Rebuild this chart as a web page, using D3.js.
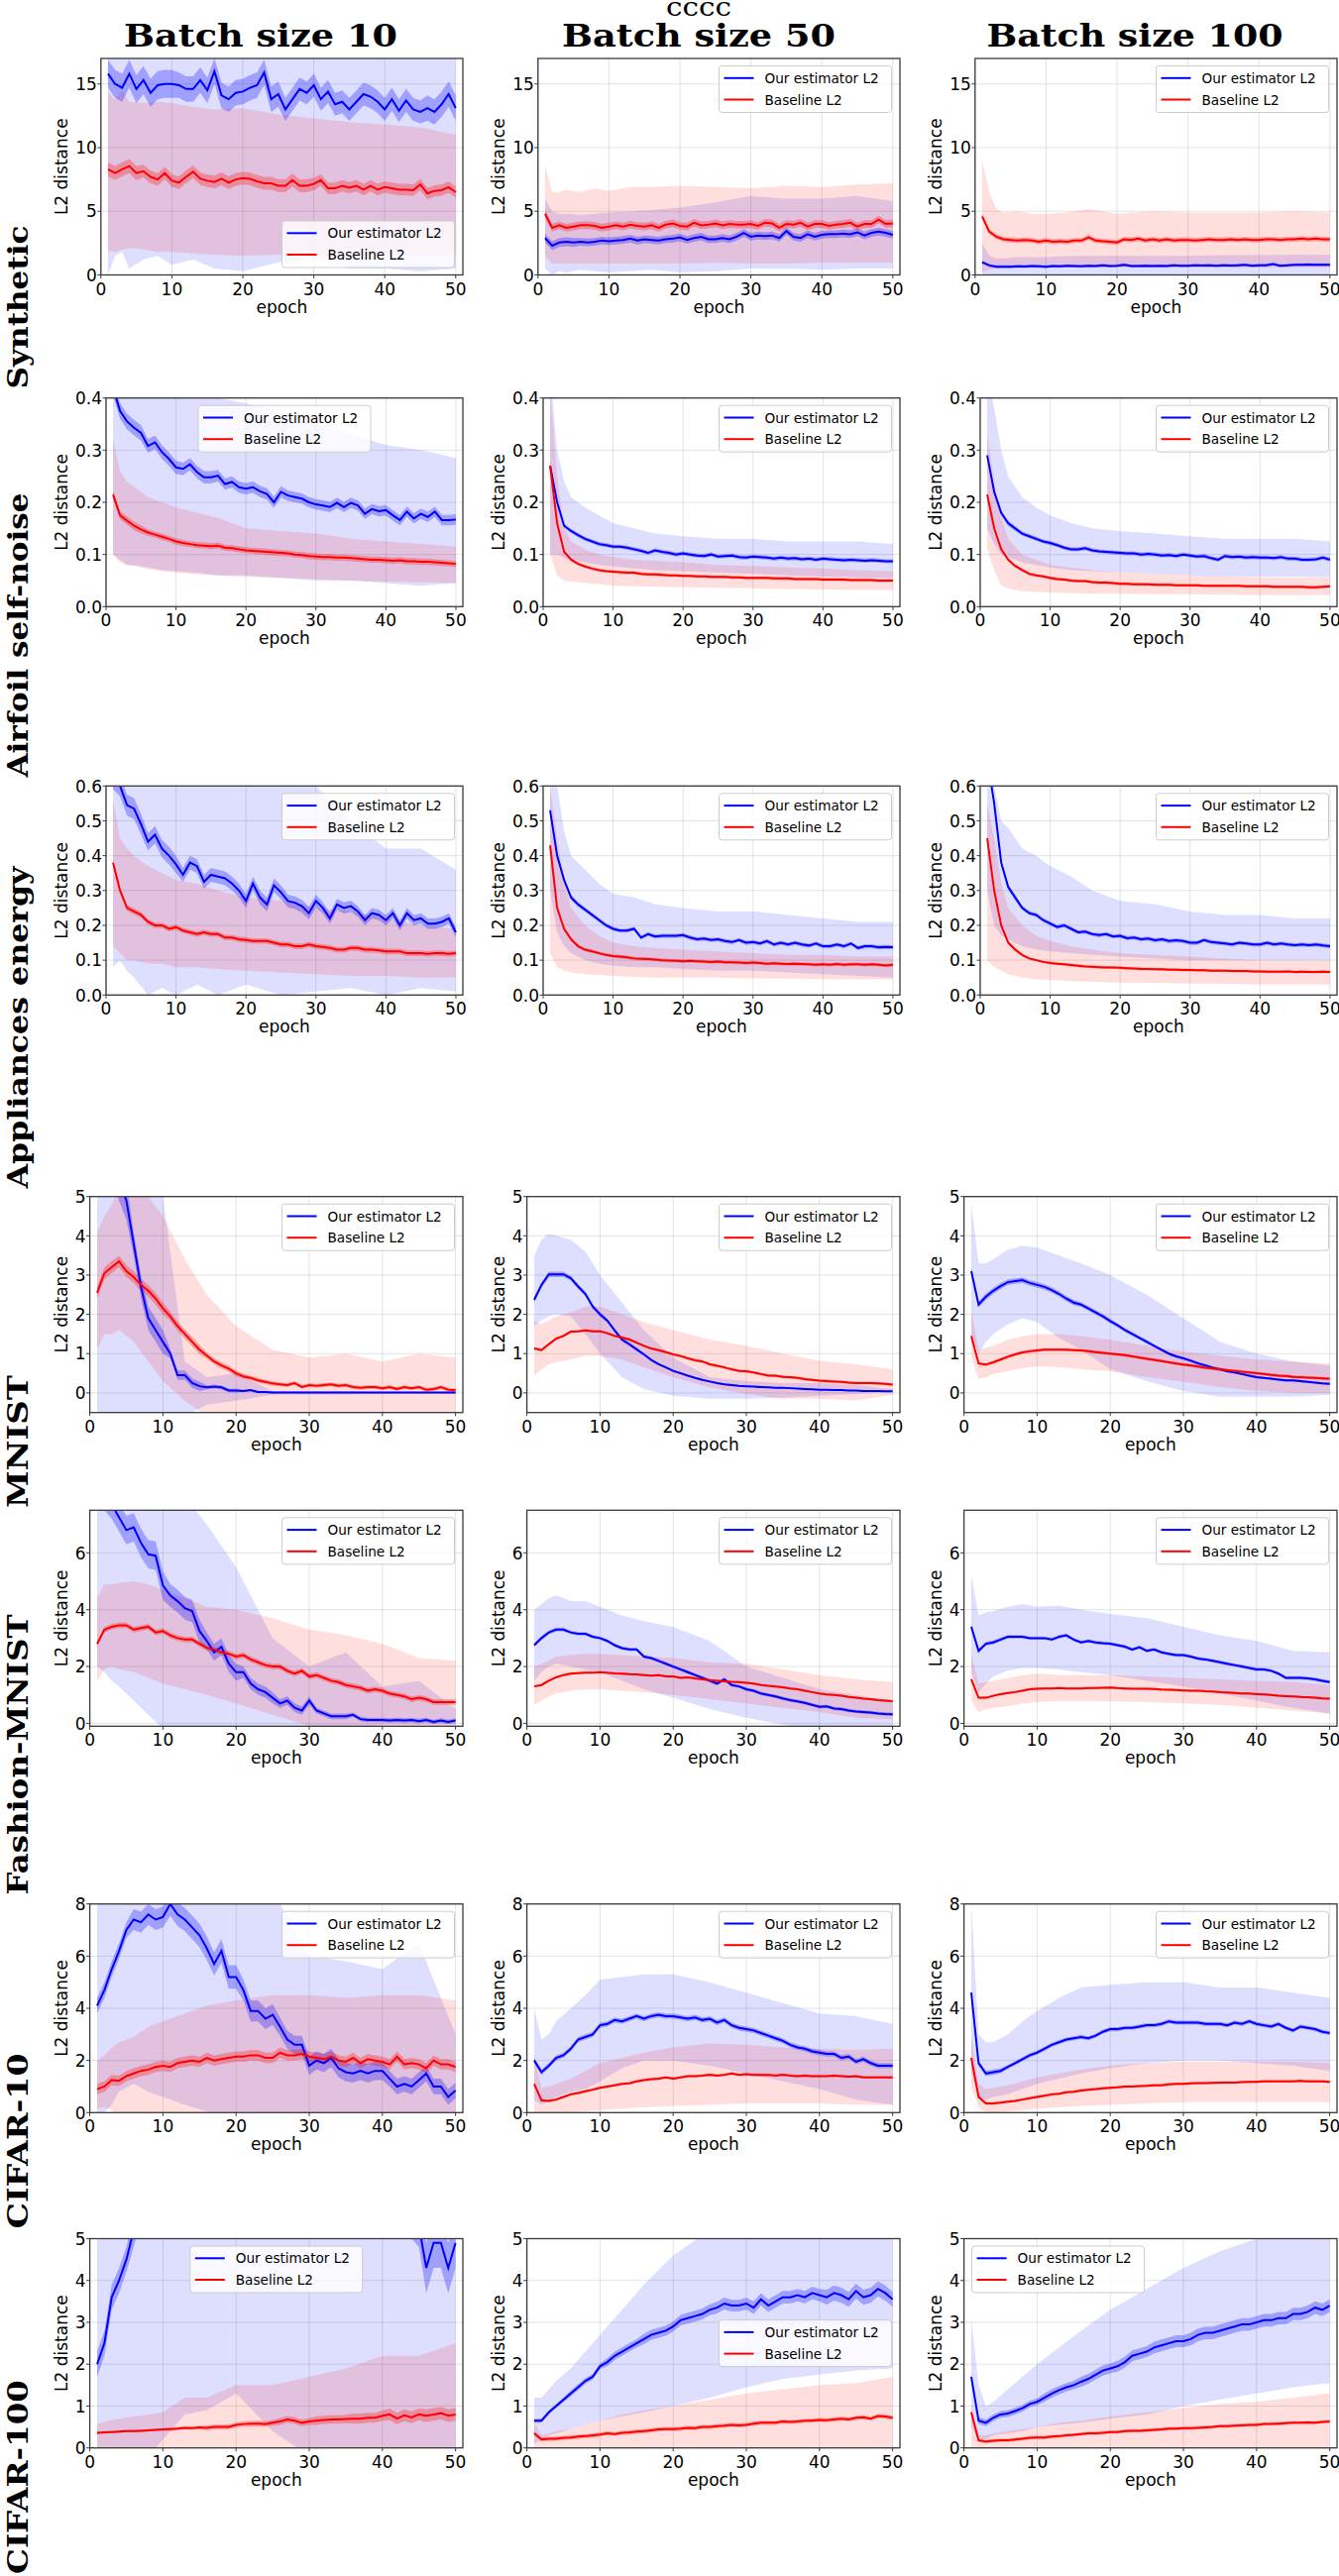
<!DOCTYPE html>
<html><head><meta charset="utf-8">
<script src="https://cdn.jsdelivr.net/npm/d3@7"></script>
<style>body{margin:0;background:#fff}</style>
</head><body><svg id="c" width="1351" height="2600" xmlns="http://www.w3.org/2000/svg"></svg>
<script>
// ---------- shared categories / labels ----------
const epochs = d3.range(1, 51);
const bandEpochs = [1,2,3,4,6,8,10,13,16,20,25,30,35,40,45,50];
const colTitles = ["Batch size 10","Batch size 50","Batch size 100"];
const rowNames = ["Synthetic","Airfoil self-noise","Appliances energy","MNIST","Fashion-MNIST","CIFAR-10","CIFAR-100"];
const seriesNames = ["Our estimator L2","Baseline L2"];
const xTicks = [0,10,20,30,40,50];
const yDomains = [[0,17],[0,0.4],[0,0.6],[-0.5,5],[-0.1,7.5],[0,8],[0,5]];
const yTicks = [[0,5,10,15],[0,0.1,0.2,0.3,0.4],[0,0.1,0.2,0.3,0.4,0.5,0.6],[0,1,2,3,4,5],[0,2,4,6],[0,2,4,6,8],[0,1,2,3,4,5]];
const yFormats = ["d",".1f",".1f","d","d","d","d"];

// ---------- Synthetic ----------
const synB10EstMean = [15.8,15.0,14.7,15.8,14.6,15.3,14.3,14.9,15.0,15.0,14.9,14.6,14.6,15.3,14.5,16.0,14.1,13.8,14.3,14.4,14.7,14.9,15.9,13.8,14.2,13.0,13.8,14.6,14.3,14.9,13.8,14.4,13.4,13.6,13.0,13.6,14.2,14.0,13.6,13.0,13.8,12.9,13.7,13.0,12.8,13.1,12.8,13.4,14.2,13.1];
const synB10EstSe = [1.1,1.1,1.0,1.0,1.0,0.9,0.9,0.9,0.9,1.0];
const synB10EstLo = [0.0,1.5,1.8,0.5,1.2,1.5,0.8,1.2,0.5,0.3,1.0,1.3,0.5,0.5,0.3,0.5];
const synB10EstHi = [20,20,20,20,20,20,20,20,20,20,20,20,20,20,20,20];
const synB10BaseMean = [8.3,8.0,8.3,8.55,8.0,8.15,7.7,7.5,8.0,7.4,7.25,7.7,8.1,7.55,7.4,7.3,7.55,7.25,7.5,7.6,7.55,7.35,7.2,7.2,7.0,7.0,7.45,7.0,7.0,7.15,7.45,6.8,6.8,7.0,6.85,7.0,6.7,7.0,6.7,6.9,6.8,6.7,6.7,6.65,7.1,6.4,6.6,6.65,6.9,6.5];
const synB10BaseSe = [0.55,0.5,0.5,0.5,0.5,0.5,0.45,0.45,0.45,0.45];
const synB10BaseLo = [1.9,1.8,2.0,2.1,2.0,1.8,1.8,1.7,1.6,1.5,1.6,1.4,1.5,1.6,1.5,1.6];
const synB10BaseHi = [14.4,13.8,14.5,13.6,13.5,13.6,13.5,13.2,13.0,13.1,12.6,12.3,12.0,11.8,11.6,11.0];

const synB50EstMean = [2.9,2.3,2.55,2.6,2.55,2.6,2.55,2.6,2.7,2.65,2.7,2.75,2.85,2.7,2.8,2.75,2.7,2.8,2.85,2.95,2.75,2.9,3.0,2.8,2.8,2.9,2.8,3.0,3.3,3.0,3.1,3.05,3.1,2.9,3.45,3.0,2.9,3.2,3.0,3.15,3.2,3.2,3.25,3.2,3.35,3.1,3.3,3.4,3.3,3.15];
const synB50EstSe = [0.35,0.3,0.3,0.3,0.3,0.3,0.3,0.3,0.3,0.3];
const synB50EstLo = [0.5,0.0,0.3,0.2,0.4,0.3,0.2,0.3,0.4,0.2,0.3,0.5,0.5,0.4,0.5,0.5];
const synB50EstHi = [6.0,5.0,4.8,4.8,4.7,4.8,4.9,5.0,5.1,5.3,5.7,6.2,6.0,6.0,6.2,5.8];
const synB50BaseMean = [4.8,3.7,3.9,3.7,3.8,3.9,3.9,3.85,3.7,3.8,3.9,3.8,3.95,3.85,3.8,3.9,3.7,3.95,4.05,3.85,3.8,4.1,3.9,3.95,4.05,3.9,4.0,3.95,3.95,4.0,3.85,4.1,4.05,3.7,4.0,3.95,4.1,3.8,4.0,4.0,3.85,3.95,4.0,4.1,3.8,4.0,4.0,4.35,4.0,4.05];
const synB50BaseSe = [0.3,0.3,0.3,0.3,0.3,0.3,0.3,0.3,0.3,0.3];
const synB50BaseLo = [1.5,0.9,0.9,0.9,0.9,0.9,0.9,0.9,0.9,0.9,0.95,0.9,0.9,0.95,0.95,0.95];
const synB50BaseHi = [8.6,6.5,6.5,6.7,6.5,6.8,6.6,6.9,6.9,7.0,6.9,6.8,7.0,6.9,7.1,7.2];

const synB100EstMean = [1.0,0.75,0.65,0.65,0.65,0.68,0.66,0.7,0.68,0.65,0.7,0.68,0.72,0.7,0.68,0.72,0.7,0.75,0.7,0.72,0.8,0.7,0.7,0.72,0.7,0.72,0.7,0.75,0.72,0.72,0.75,0.74,0.75,0.72,0.76,0.74,0.75,0.8,0.72,0.75,0.76,0.85,0.72,0.75,0.8,0.8,0.82,0.8,0.8,0.8];
const synB100EstSe = [0.12,0.12,0.12,0.12,0.12,0.12,0.12,0.12,0.12,0.12];
const synB100EstLo = [0,0,0,0,0,0,0,0,0,0,0,0,0,0,0,0];
const synB100EstHi = [2.5,1.5,1.3,1.3,1.4,1.4,1.4,1.5,1.5,1.5,1.5,1.5,1.55,1.55,1.6,1.6];
const synB100BaseMean = [4.6,3.4,3.0,2.8,2.75,2.7,2.75,2.7,2.6,2.7,2.6,2.65,2.6,2.7,2.7,2.95,2.7,2.65,2.6,2.55,2.8,2.75,2.85,2.7,2.8,2.7,2.8,2.7,2.75,2.75,2.7,2.75,2.8,2.75,2.75,2.8,2.75,2.8,2.75,2.75,2.8,2.8,2.75,2.8,2.8,2.85,2.8,2.85,2.8,2.8];
const synB100BaseSe = [0.2,0.2,0.2,0.2,0.2,0.2,0.2,0.2,0.2,0.2];
const synB100BaseLo = [0.2,0.4,0.5,0.6,0.6,0.6,0.6,0.6,0.6,0.6,0.6,0.65,0.6,0.6,0.6,0.6];
const synB100BaseHi = [9.0,6.5,5.2,4.9,5.0,4.8,4.8,4.9,5.2,4.8,5.0,4.9,4.9,4.9,5.0,4.9];

// ---------- Airfoil self-noise ----------
const airB10EstMean = [0.42,0.375,0.355,0.343,0.333,0.308,0.315,0.296,0.283,0.267,0.264,0.273,0.258,0.248,0.248,0.251,0.235,0.239,0.229,0.226,0.229,0.221,0.216,0.2,0.22,0.213,0.21,0.207,0.2,0.196,0.194,0.191,0.199,0.191,0.199,0.194,0.178,0.187,0.183,0.185,0.175,0.166,0.182,0.169,0.178,0.172,0.182,0.166,0.166,0.167];
const airB10EstSe = [0.015,0.013,0.012,0.011,0.011,0.01,0.01,0.01,0.01,0.01];
const airB10EstLo = [0.1,0.09,0.08,0.08,0.075,0.07,0.068,0.065,0.06,0.06,0.055,0.05,0.05,0.045,0.04,0.045];
const airB10EstHi = [0.5,0.5,0.5,0.5,0.45,0.42,0.41,0.405,0.4,0.39,0.37,0.35,0.33,0.31,0.3,0.285];
const airB10BaseMean = [0.215,0.175,0.165,0.155,0.148,0.142,0.138,0.134,0.13,0.125,0.122,0.12,0.118,0.117,0.116,0.117,0.113,0.112,0.11,0.108,0.107,0.106,0.105,0.104,0.103,0.102,0.1,0.099,0.097,0.096,0.095,0.095,0.094,0.094,0.093,0.092,0.091,0.09,0.09,0.089,0.088,0.089,0.087,0.087,0.086,0.086,0.085,0.084,0.083,0.082];
const airB10BaseSe = [0.008,0.006,0.006,0.006,0.006,0.006,0.006,0.006,0.006,0.006];
const airB10BaseLo = [0.1,0.085,0.08,0.078,0.072,0.068,0.065,0.062,0.06,0.057,0.055,0.053,0.05,0.048,0.047,0.045];
const airB10BaseHi = [0.32,0.26,0.24,0.23,0.21,0.2,0.19,0.18,0.17,0.15,0.145,0.14,0.13,0.125,0.12,0.115];

const airB50EstMean = [0.27,0.2,0.155,0.145,0.137,0.13,0.125,0.12,0.118,0.115,0.115,0.113,0.11,0.107,0.103,0.108,0.105,0.103,0.1,0.102,0.1,0.098,0.097,0.1,0.096,0.097,0.098,0.095,0.094,0.096,0.095,0.094,0.092,0.094,0.092,0.093,0.091,0.092,0.09,0.092,0.091,0.09,0.089,0.09,0.089,0.088,0.089,0.088,0.087,0.087];
const airB50EstSe = [0.004,0.004,0.004,0.004,0.004,0.004,0.004,0.004,0.004,0.004];
const airB50EstLo = [0.1,0.1,0.093,0.09,0.085,0.08,0.077,0.073,0.07,0.068,0.065,0.063,0.06,0.058,0.056,0.055];
const airB50EstHi = [0.45,0.3,0.24,0.21,0.19,0.175,0.16,0.15,0.14,0.135,0.13,0.13,0.125,0.125,0.125,0.12];
const airB50BaseMean = [0.27,0.16,0.105,0.09,0.082,0.077,0.073,0.07,0.068,0.067,0.066,0.065,0.065,0.063,0.062,0.062,0.061,0.06,0.06,0.059,0.059,0.058,0.058,0.057,0.057,0.057,0.056,0.056,0.055,0.055,0.055,0.055,0.054,0.054,0.054,0.053,0.053,0.053,0.053,0.052,0.052,0.052,0.052,0.051,0.051,0.051,0.051,0.05,0.05,0.05];
const airB50BaseSe = [0.003,0.003,0.003,0.003,0.003,0.003,0.003,0.003,0.003,0.003];
const airB50BaseLo = [0.1,0.06,0.05,0.048,0.045,0.043,0.04,0.039,0.038,0.037,0.036,0.035,0.034,0.033,0.032,0.032];
const airB50BaseHi = [0.42,0.25,0.15,0.125,0.11,0.1,0.095,0.09,0.088,0.085,0.08,0.078,0.075,0.073,0.07,0.068];

const airB100EstMean = [0.29,0.22,0.18,0.16,0.15,0.14,0.135,0.13,0.125,0.122,0.118,0.113,0.11,0.11,0.112,0.108,0.106,0.105,0.104,0.103,0.102,0.102,0.1,0.101,0.1,0.098,0.099,0.097,0.1,0.098,0.096,0.097,0.093,0.09,0.097,0.095,0.096,0.094,0.095,0.094,0.094,0.093,0.095,0.092,0.092,0.09,0.09,0.091,0.094,0.09];
const airB100EstSe = [0.005,0.004,0.004,0.004,0.004,0.004,0.004,0.004,0.004,0.004];
const airB100EstLo = [0.15,0.12,0.1,0.095,0.085,0.08,0.075,0.07,0.068,0.065,0.063,0.06,0.058,0.057,0.057,0.057];
const airB100EstHi = [0.45,0.38,0.3,0.25,0.21,0.19,0.175,0.16,0.15,0.145,0.14,0.135,0.13,0.13,0.13,0.125];
const airB100BaseMean = [0.215,0.15,0.11,0.09,0.078,0.07,0.063,0.06,0.058,0.055,0.053,0.052,0.05,0.049,0.049,0.047,0.046,0.046,0.045,0.044,0.044,0.043,0.043,0.043,0.042,0.042,0.042,0.041,0.041,0.041,0.041,0.04,0.04,0.04,0.04,0.04,0.04,0.039,0.039,0.039,0.039,0.038,0.038,0.038,0.038,0.038,0.037,0.037,0.038,0.039];
const airB100BaseSe = [0.003,0.003,0.003,0.003,0.003,0.003,0.003,0.003,0.003,0.003];
const airB100BaseLo = [0.11,0.07,0.04,0.035,0.03,0.028,0.027,0.026,0.025,0.025,0.024,0.024,0.023,0.022,0.022,0.022];
const airB100BaseHi = [0.33,0.24,0.17,0.13,0.1,0.09,0.08,0.075,0.07,0.065,0.063,0.06,0.058,0.056,0.055,0.057];

// ---------- Appliances energy ----------
const appB10EstMean = [0.62,0.6,0.545,0.535,0.49,0.44,0.46,0.42,0.4,0.375,0.345,0.38,0.37,0.325,0.345,0.34,0.335,0.32,0.3,0.27,0.32,0.28,0.26,0.315,0.295,0.27,0.265,0.255,0.235,0.27,0.25,0.22,0.26,0.25,0.255,0.24,0.215,0.235,0.23,0.215,0.235,0.2,0.235,0.215,0.22,0.205,0.205,0.21,0.22,0.18];
const appB10EstSe = [0.03,0.025,0.02,0.02,0.02,0.018,0.016,0.015,0.015,0.015];
const appB10EstLo = [0.08,0.1,0.07,0.05,0.0,0.02,0.0,0.03,0.0,0.03,0.0,0.01,0.02,0.0,0.02,0.01];
const appB10EstHi = [0.8,0.8,0.8,0.8,0.8,0.8,0.8,0.8,0.8,0.62,0.6,0.6,0.5,0.42,0.42,0.36];
const appB10BaseMean = [0.38,0.3,0.25,0.24,0.23,0.21,0.2,0.2,0.19,0.195,0.185,0.18,0.175,0.18,0.175,0.175,0.165,0.165,0.16,0.158,0.155,0.155,0.155,0.15,0.145,0.145,0.14,0.14,0.145,0.14,0.138,0.135,0.13,0.13,0.135,0.135,0.13,0.13,0.128,0.125,0.125,0.125,0.12,0.12,0.12,0.118,0.12,0.12,0.118,0.12];
const appB10BaseSe = [0.009,0.008,0.008,0.008,0.008,0.008,0.008,0.008,0.008,0.008];
const appB10BaseLo = [0.14,0.12,0.1,0.1,0.09,0.09,0.08,0.08,0.075,0.07,0.065,0.06,0.055,0.055,0.05,0.05];
const appB10BaseHi = [0.56,0.45,0.42,0.4,0.37,0.35,0.33,0.32,0.3,0.28,0.27,0.25,0.24,0.22,0.2,0.19];

const appB50EstMean = [0.53,0.4,0.33,0.28,0.26,0.245,0.23,0.215,0.2,0.19,0.185,0.185,0.19,0.165,0.175,0.168,0.17,0.17,0.17,0.172,0.165,0.16,0.162,0.158,0.16,0.155,0.152,0.158,0.15,0.152,0.148,0.155,0.145,0.15,0.145,0.15,0.145,0.142,0.148,0.14,0.14,0.145,0.14,0.148,0.135,0.14,0.14,0.137,0.138,0.137];
const appB50EstSe = [0.007,0.006,0.006,0.006,0.006,0.006,0.006,0.006,0.006,0.006];
const appB50EstLo = [0.3,0.18,0.14,0.12,0.1,0.09,0.085,0.08,0.08,0.075,0.07,0.07,0.065,0.06,0.055,0.05];
const appB50EstHi = [0.75,0.6,0.47,0.4,0.36,0.32,0.29,0.28,0.26,0.25,0.24,0.24,0.23,0.22,0.21,0.21];
const appB50BaseMean = [0.43,0.25,0.19,0.16,0.14,0.13,0.125,0.12,0.115,0.112,0.11,0.108,0.105,0.104,0.103,0.102,0.1,0.099,0.098,0.097,0.098,0.097,0.096,0.095,0.096,0.094,0.094,0.093,0.092,0.093,0.092,0.09,0.091,0.09,0.089,0.09,0.089,0.088,0.087,0.088,0.087,0.089,0.087,0.088,0.088,0.087,0.088,0.087,0.085,0.087];
const appB50BaseSe = [0.005,0.005,0.005,0.005,0.005,0.005,0.005,0.005,0.005,0.005];
const appB50BaseLo = [0.12,0.08,0.07,0.065,0.06,0.058,0.055,0.052,0.05,0.05,0.05,0.048,0.047,0.045,0.045,0.045];
const appB50BaseHi = [0.6,0.45,0.33,0.25,0.2,0.17,0.15,0.14,0.135,0.13,0.125,0.12,0.115,0.115,0.11,0.11];

const appB100EstMean = [0.68,0.55,0.38,0.31,0.28,0.25,0.235,0.23,0.215,0.205,0.195,0.2,0.19,0.18,0.182,0.175,0.172,0.175,0.168,0.17,0.163,0.165,0.16,0.162,0.157,0.16,0.155,0.157,0.155,0.15,0.15,0.158,0.152,0.15,0.148,0.145,0.15,0.148,0.145,0.145,0.15,0.145,0.148,0.145,0.143,0.145,0.143,0.145,0.142,0.14];
const appB100EstSe = [0.008,0.006,0.006,0.006,0.006,0.006,0.006,0.006,0.006,0.006];
const appB100EstLo = [0.3,0.2,0.17,0.16,0.14,0.13,0.125,0.12,0.115,0.11,0.105,0.1,0.1,0.1,0.1,0.1];
const appB100EstHi = [0.9,0.6,0.5,0.48,0.42,0.4,0.37,0.34,0.3,0.27,0.26,0.24,0.23,0.23,0.22,0.22];
const appB100BaseMean = [0.45,0.3,0.2,0.15,0.13,0.115,0.105,0.1,0.095,0.092,0.09,0.088,0.086,0.084,0.082,0.081,0.08,0.079,0.079,0.078,0.077,0.076,0.075,0.075,0.074,0.074,0.073,0.073,0.072,0.072,0.071,0.071,0.07,0.07,0.07,0.069,0.069,0.069,0.068,0.068,0.067,0.067,0.067,0.068,0.066,0.067,0.066,0.066,0.067,0.066];
const appB100BaseSe = [0.005,0.004,0.004,0.004,0.004,0.004,0.004,0.004,0.004,0.004];
const appB100BaseLo = [0.1,0.08,0.07,0.06,0.05,0.045,0.043,0.04,0.038,0.036,0.035,0.033,0.032,0.03,0.03,0.03];
const appB100BaseHi = [0.55,0.45,0.32,0.25,0.2,0.17,0.155,0.14,0.13,0.12,0.115,0.11,0.105,0.1,0.1,0.1];

// ---------- MNIST ----------
const mnB10EstMean = [7.5,6.8,6.0,5.4,4.9,3.8,2.7,1.9,1.6,1.3,1.0,0.45,0.45,0.25,0.17,0.14,0.16,0.14,0.06,0.06,0.05,0.07,0.02,0.02,0.01,0.01,0.01,0.01,0.01,0.01,0.01,0.01,0.01,0.01,0.01,0.01,0.01,0.01,0.01,0.01,0.01,0.01,0.01,0.01,0.01,0.01,0.01,0.01,0.01,0.01];
const mnB10EstSe = [0.5,0.3,0.12,0.05,0.03,0.02,0.02,0.02,0.02,0.02];
const mnB10EstLo = [-1,-1,-1,-1,-1,-1,-1,-0.6,-0.3,-0.2,-0.05,-0.05,-0.05,-0.02,-0.02,-0.02];
const mnB10EstHi = [9,9,9,9,9,8,5.0,0.8,0.4,0.5,0.05,0.05,0.05,0.02,0.02,0.02];
const mnB10BaseMean = [2.55,3.05,3.2,3.35,3.1,2.95,2.75,2.6,2.4,2.15,1.95,1.7,1.5,1.3,1.1,0.95,0.8,0.7,0.62,0.5,0.42,0.38,0.32,0.28,0.24,0.22,0.2,0.25,0.15,0.2,0.18,0.2,0.22,0.18,0.2,0.15,0.13,0.15,0.15,0.12,0.15,0.1,0.15,0.12,0.15,0.08,0.1,0.15,0.08,0.07];
const mnB10BaseSe = [0.15,0.15,0.12,0.08,0.06,0.05,0.05,0.05,0.05,0.05];
const mnB10BaseLo = [1.1,1.5,1.5,1.6,1.3,0.8,0.3,-0.2,-0.6,-0.6,-0.6,-0.6,-0.6,-0.6,-0.6,-0.6];
const mnB10BaseHi = [4.1,4.5,4.8,5.2,5.2,5.0,4.5,3.4,2.5,1.7,1.1,0.9,1.0,0.8,1.0,0.9];

const mnB50EstMean = [2.37,2.75,3.02,3.02,3.02,2.92,2.71,2.52,2.2,2.0,1.84,1.59,1.36,1.24,1.11,0.98,0.84,0.73,0.65,0.56,0.5,0.44,0.38,0.33,0.29,0.25,0.22,0.2,0.18,0.17,0.16,0.15,0.14,0.13,0.13,0.12,0.11,0.1,0.09,0.08,0.08,0.07,0.07,0.06,0.06,0.05,0.05,0.05,0.04,0.04];
const mnB50EstSe = [0.07,0.06,0.05,0.03,0.02,0.02,0.01,0.01,0.01,0.01];
const mnB50EstLo = [1.7,1.85,1.95,2.0,1.95,1.5,1.0,0.4,0.1,-0.07,-0.15,-0.15,-0.12,-0.07,-0.03,0.02];
const mnB50EstHi = [3.5,3.9,4.05,4.0,3.9,3.6,3.0,2.3,1.6,0.9,0.4,0.3,0.25,0.25,0.2,0.1];
const mnB50BaseMean = [1.13,1.09,1.24,1.38,1.45,1.56,1.57,1.59,1.57,1.57,1.52,1.45,1.41,1.36,1.28,1.2,1.13,1.09,1.04,0.98,0.94,0.88,0.83,0.8,0.73,0.69,0.65,0.6,0.56,0.55,0.52,0.48,0.44,0.44,0.41,0.4,0.38,0.35,0.33,0.31,0.3,0.29,0.28,0.26,0.25,0.25,0.25,0.24,0.23,0.21];
const mnB50BaseSe = [0.035,0.035,0.035,0.035,0.035,0.035,0.035,0.035,0.035,0.035];
const mnB50BaseLo = [0.44,0.6,0.73,0.78,0.85,0.94,0.94,0.85,0.65,0.4,0.14,-0.03,-0.15,-0.15,-0.19,-0.05];
const mnB50BaseHi = [1.83,1.75,1.85,1.95,2.05,2.2,2.2,2.0,1.8,1.6,1.36,1.2,1.0,0.82,0.73,0.6];

const mnB100EstMean = [3.1,2.25,2.45,2.6,2.72,2.82,2.85,2.87,2.8,2.75,2.7,2.62,2.52,2.4,2.3,2.25,2.15,2.05,1.95,1.83,1.72,1.6,1.5,1.4,1.3,1.2,1.1,1.0,0.93,0.88,0.82,0.75,0.7,0.64,0.6,0.55,0.52,0.48,0.44,0.4,0.38,0.36,0.34,0.32,0.32,0.3,0.28,0.26,0.24,0.23];
const mnB100EstSe = [0.08,0.07,0.07,0.06,0.05,0.04,0.04,0.03,0.03,0.03];
const mnB100EstLo = [1.4,1.0,1.3,1.5,1.75,1.9,1.8,1.4,1.1,0.6,0.3,0.05,-0.1,-0.1,-0.1,-0.05];
const mnB100EstHi = [4.8,3.3,3.3,3.4,3.65,3.75,3.7,3.5,3.3,3.0,2.5,1.9,1.3,1.0,0.8,0.7];
const mnB100BaseMean = [1.45,0.75,0.72,0.78,0.85,0.92,0.98,1.03,1.06,1.08,1.1,1.1,1.1,1.1,1.09,1.08,1.06,1.04,1.02,1.0,0.98,0.96,0.93,0.9,0.87,0.84,0.81,0.78,0.75,0.72,0.7,0.67,0.64,0.62,0.6,0.58,0.56,0.54,0.52,0.5,0.48,0.46,0.44,0.43,0.41,0.4,0.39,0.38,0.37,0.36];
const mnB100BaseSe = [0.04,0.04,0.04,0.04,0.04,0.04,0.04,0.04,0.04,0.04];
const mnB100BaseLo = [0.9,0.35,0.4,0.48,0.55,0.63,0.68,0.65,0.6,0.55,0.4,0.28,0.15,0.05,0.0,0.0];
const mnB100BaseHi = [2.1,1.1,1.15,1.2,1.35,1.45,1.5,1.5,1.45,1.35,1.2,1.05,0.95,0.85,0.8,0.75];

// ---------- Fashion-MNIST ----------
const fmB10EstMean = [8.5,8.0,7.7,7.25,6.8,6.9,6.35,5.95,5.9,4.85,4.5,4.3,4.05,3.95,3.25,2.9,2.5,2.7,2.1,1.8,1.8,1.4,1.2,1.1,0.9,0.7,0.8,0.55,0.45,0.8,0.45,0.35,0.25,0.25,0.25,0.3,0.15,0.12,0.12,0.12,0.1,0.12,0.1,0.12,0.08,0.12,0.05,0.1,0.05,0.1];
const fmB10EstSe = [0.5,0.5,0.4,0.3,0.2,0.15,0.1,0.08,0.08,0.08];
const fmB10EstLo = [2.0,1.8,1.5,1.3,0.8,0.3,-0.2,-0.2,-0.2,-0.2,-0.2,-0.2,-0.2,-0.05,-0.05,-0.05];
const fmB10EstHi = [10,10,10,10,10,10,9,8,7.0,5.5,3.0,2.0,2.5,1.3,1.5,0.5];
const fmB10BaseMean = [2.8,3.3,3.4,3.45,3.45,3.3,3.35,3.4,3.2,3.25,3.1,3.0,2.95,2.95,2.8,2.65,2.6,2.5,2.45,2.35,2.4,2.25,2.15,2.05,2.0,2.0,1.85,1.75,1.85,1.65,1.7,1.6,1.5,1.45,1.35,1.3,1.25,1.15,1.2,1.15,1.05,1.0,0.95,0.85,0.9,0.85,0.75,0.75,0.75,0.75];
const fmB10BaseSe = [0.1,0.1,0.1,0.1,0.1,0.1,0.1,0.1,0.1,0.1];
const fmB10BaseLo = [1.5,1.9,2.0,1.9,1.8,1.6,1.4,1.2,1.0,0.7,0.3,-0.1,-0.2,-0.2,-0.2,-0.2];
const fmB10BaseHi = [4.4,4.9,4.9,4.95,5.0,4.9,4.7,4.4,4.1,4.0,3.7,3.3,3.1,2.8,2.3,2.2];

const fmB50EstMean = [2.75,3.0,3.2,3.3,3.3,3.2,3.15,3.15,3.05,3.0,2.9,2.75,2.65,2.6,2.6,2.35,2.3,2.2,2.1,2.0,1.9,1.8,1.7,1.6,1.5,1.4,1.55,1.35,1.3,1.2,1.15,1.05,1.0,0.95,0.88,0.82,0.77,0.72,0.65,0.58,0.6,0.52,0.5,0.45,0.42,0.4,0.38,0.35,0.33,0.32];
const fmB50EstSe = [0.07,0.06,0.06,0.06,0.06,0.06,0.06,0.06,0.06,0.06];
const fmB50EstLo = [1.5,1.8,2.0,2.1,2.0,1.9,1.8,1.5,1.2,0.9,0.5,0.2,-0.05,-0.2,-0.2,-0.1];
const fmB50EstHi = [4.0,4.2,4.4,4.5,4.3,4.3,4.1,3.8,3.6,3.4,2.9,2.0,1.6,1.2,1.0,0.8];
const fmB50BaseMean = [1.3,1.35,1.5,1.62,1.7,1.75,1.77,1.78,1.78,1.8,1.78,1.76,1.75,1.73,1.72,1.7,1.68,1.7,1.65,1.65,1.6,1.62,1.58,1.55,1.52,1.5,1.48,1.46,1.45,1.43,1.4,1.35,1.32,1.3,1.27,1.23,1.2,1.15,1.1,1.05,1.02,1.0,0.97,0.93,0.9,0.87,0.85,0.82,0.8,0.78];
const fmB50BaseSe = [0.04,0.04,0.04,0.04,0.04,0.04,0.04,0.04,0.04,0.04];
const fmB50BaseLo = [0.65,0.8,0.95,1.05,1.15,1.2,1.2,1.15,1.1,1.0,0.85,0.7,0.55,0.4,0.2,0.15];
const fmB50BaseHi = [2.0,2.1,2.2,2.35,2.4,2.45,2.45,2.4,2.35,2.3,2.15,2.1,1.9,1.7,1.55,1.45];

const fmB100EstMean = [3.4,2.55,2.8,2.85,2.95,3.05,3.05,3.05,3.0,3.0,3.0,2.95,3.05,3.1,2.95,2.85,2.9,2.85,2.82,2.8,2.75,2.7,2.6,2.68,2.55,2.6,2.5,2.45,2.4,2.4,2.35,2.28,2.25,2.2,2.15,2.1,2.05,2.0,1.95,1.9,1.9,1.85,1.75,1.6,1.6,1.6,1.58,1.55,1.5,1.45];
const fmB100EstSe = [0.07,0.06,0.06,0.06,0.06,0.06,0.06,0.06,0.06,0.06];
const fmB100EstLo = [1.8,1.1,1.4,1.65,1.85,1.95,1.95,1.9,1.8,1.7,1.5,1.3,1.05,0.8,0.55,0.35];
const fmB100EstHi = [5.2,3.8,3.9,3.95,4.1,4.2,4.1,4.15,4.0,3.85,3.7,3.4,3.1,2.9,2.55,2.5];
const fmB100BaseMean = [1.55,0.9,0.9,0.97,1.03,1.07,1.1,1.15,1.2,1.22,1.23,1.23,1.24,1.23,1.23,1.23,1.24,1.24,1.25,1.26,1.24,1.23,1.22,1.22,1.22,1.21,1.19,1.18,1.17,1.16,1.15,1.15,1.13,1.12,1.1,1.09,1.07,1.05,1.05,1.03,1.02,1.0,0.97,0.96,0.95,0.93,0.92,0.9,0.88,0.87];
const fmB100BaseSe = [0.04,0.04,0.04,0.04,0.04,0.04,0.04,0.04,0.04,0.04];
const fmB100BaseLo = [0.8,0.4,0.5,0.55,0.6,0.7,0.75,0.78,0.78,0.78,0.75,0.7,0.65,0.55,0.45,0.35];
const fmB100BaseHi = [2.4,1.4,1.45,1.5,1.6,1.7,1.75,1.7,1.7,1.7,1.65,1.6,1.55,1.5,1.45,1.35];

// ---------- CIFAR-10 ----------
const c10B10EstMean = [4.1,4.7,5.5,6.2,7.0,7.4,7.3,7.6,7.4,7.5,8.0,7.6,7.4,7.1,6.8,6.3,5.7,6.2,5.2,5.2,4.7,3.9,3.9,3.6,3.75,3.3,2.8,2.6,2.6,1.8,2.0,1.9,2.1,1.7,1.55,1.5,1.6,1.5,1.6,1.6,1.3,1.0,1.1,1.0,1.25,1.5,1.0,1.0,0.6,0.85];
const c10B10EstSe = [0.3,0.4,0.45,0.45,0.4,0.35,0.35,0.35,0.3,0.3];
const c10B10EstLo = [-0.5,0.0,0.3,0.8,1.1,0.8,0.6,0.3,0.05,-0.5,-0.5,-0.5,-0.5,-0.5,-0.5,-0.5];
const c10B10EstHi = [9,9,9,9,9,9,9,9,9,9,8.5,6.0,5.8,5.5,6.5,3.0];
const c10B10BaseMean = [0.9,1.0,1.25,1.22,1.4,1.5,1.6,1.65,1.75,1.8,1.75,1.9,1.95,2.0,1.95,2.1,2.0,2.05,2.1,2.15,2.15,2.2,2.2,2.1,2.1,2.3,2.2,2.2,2.25,2.15,2.1,2.05,2.15,2.0,1.95,2.1,1.9,2.05,2.0,1.95,1.85,2.15,1.85,1.9,1.85,1.7,2.0,1.85,1.85,1.75];
const c10B10BaseSe = [0.2,0.2,0.2,0.2,0.2,0.2,0.2,0.2,0.2,0.2];
const c10B10BaseLo = [0.15,0.2,0.1,-0.2,-0.3,-0.3,-0.3,-0.3,-0.3,-0.3,-0.3,-0.3,-0.3,-0.3,-0.3,-0.3];
const c10B10BaseHi = [2.0,2.2,2.5,2.7,2.9,3.3,3.5,3.8,4.1,4.3,4.5,4.5,4.4,4.5,4.5,4.3];

const c10B50EstMean = [2.0,1.55,1.8,2.1,2.2,2.45,2.8,2.9,3.0,3.35,3.4,3.55,3.5,3.6,3.7,3.6,3.7,3.75,3.7,3.7,3.65,3.6,3.65,3.55,3.6,3.45,3.55,3.35,3.25,3.2,3.15,3.05,2.95,2.85,2.75,2.6,2.5,2.45,2.35,2.3,2.25,2.25,2.1,2.15,1.95,2.05,1.9,1.8,1.8,1.8];
const c10B50EstSe = [0.1,0.1,0.1,0.1,0.1,0.1,0.1,0.1,0.1,0.1];
const c10B50EstLo = [0.5,0.3,0.5,0.6,0.8,0.9,1.2,1.7,2.0,2.0,1.8,1.5,1.2,0.9,0.5,0.3];
const c10B50EstHi = [4.0,2.8,3.0,3.5,4.0,4.5,5.1,5.2,5.3,5.3,5.0,4.6,4.2,3.8,3.7,3.4];
const c10B50BaseMean = [1.1,0.47,0.45,0.5,0.6,0.7,0.75,0.82,0.88,0.95,1.0,1.05,1.1,1.12,1.2,1.25,1.28,1.3,1.35,1.3,1.35,1.4,1.4,1.42,1.45,1.42,1.45,1.5,1.45,1.47,1.45,1.45,1.45,1.42,1.45,1.42,1.4,1.42,1.4,1.4,1.4,1.42,1.4,1.38,1.4,1.35,1.35,1.35,1.35,1.35];
const c10B50BaseSe = [0.05,0.05,0.05,0.05,0.05,0.05,0.05,0.05,0.05,0.05];
const c10B50BaseLo = [0.0,-0.1,-0.05,0.0,0.0,0.05,0.1,0.15,0.2,0.25,0.3,0.35,0.35,0.35,0.3,0.3];
const c10B50BaseHi = [2.2,0.95,1.0,1.1,1.3,1.6,1.9,2.1,2.3,2.5,2.65,2.6,2.5,2.45,2.4,2.45];

const c10B100EstMean = [4.6,1.9,1.5,1.55,1.6,1.75,1.9,2.05,2.2,2.3,2.45,2.6,2.7,2.8,2.85,2.9,2.85,2.95,3.1,3.2,3.2,3.25,3.25,3.3,3.35,3.35,3.4,3.5,3.45,3.45,3.45,3.45,3.4,3.4,3.4,3.35,3.45,3.4,3.5,3.4,3.35,3.3,3.4,3.25,3.15,3.3,3.25,3.2,3.1,3.05];
const c10B100EstSe = [0.1,0.08,0.08,0.08,0.08,0.08,0.08,0.08,0.08,0.08];
const c10B100EstLo = [1.5,0.6,0.5,0.6,0.7,0.9,1.1,1.3,1.5,1.7,1.9,2.0,2.0,1.9,1.8,1.6];
const c10B100EstHi = [8.0,3.0,2.7,2.7,3.0,3.5,3.9,4.4,4.8,4.9,5.0,5.0,4.8,4.8,4.6,4.4];
const c10B100BaseMean = [2.1,0.6,0.35,0.35,0.38,0.42,0.45,0.5,0.55,0.6,0.65,0.7,0.72,0.78,0.8,0.85,0.88,0.9,0.93,0.95,0.97,1.0,1.0,1.02,1.03,1.05,1.05,1.08,1.1,1.1,1.12,1.13,1.13,1.14,1.15,1.15,1.15,1.17,1.18,1.18,1.2,1.2,1.2,1.2,1.2,1.22,1.2,1.2,1.2,1.18];
const c10B100BaseSe = [0.05,0.05,0.05,0.05,0.05,0.05,0.05,0.05,0.05,0.05];
const c10B100BaseLo = [1.0,0.2,0.0,0.0,0.05,0.1,0.15,0.2,0.25,0.3,0.35,0.4,0.4,0.4,0.4,0.4];
const c10B100BaseHi = [3.0,1.1,0.9,0.95,1.05,1.2,1.35,1.5,1.65,1.8,1.9,1.95,1.95,1.95,1.95,1.9];

// ---------- CIFAR-100 ----------
const c100B10EstMean = [2.0,2.5,3.6,4.0,4.5,5.2,5.8,6.3,6.8,7.2,7.5,7.8,8.0,8.2,8.3,8.4,8.5,8.5,8.6,8.6,8.6,8.5,8.5,8.4,8.3,8.2,8.1,8.0,7.9,7.8,7.6,7.4,7.2,7.0,6.8,6.6,6.4,6.2,6.0,5.9,5.8,5.7,5.6,5.5,5.3,4.3,4.9,4.9,4.3,4.9];
const c100B10EstSe = [0.3,0.4,0.5,0.5,0.5,0.5,0.5,0.5,0.5,0.6];
const c100B10EstLo = [-0.2,-0.2,-0.2,-0.2,-0.2,-0.2,0.2,0.8,0.9,1.3,0.4,-0.2,-0.2,-0.2,-0.2,-0.2];
const c100B10EstHi = [10,10,10,10,10,10,10,10,10,10,10,10,10,10,10,10];
const c100B10BaseMean = [0.36,0.37,0.38,0.39,0.4,0.4,0.41,0.42,0.43,0.44,0.45,0.46,0.48,0.47,0.49,0.48,0.5,0.5,0.5,0.55,0.57,0.58,0.58,0.57,0.6,0.63,0.68,0.65,0.6,0.63,0.65,0.67,0.68,0.68,0.69,0.7,0.7,0.72,0.72,0.77,0.8,0.7,0.78,0.73,0.8,0.77,0.8,0.83,0.77,0.8];
const c100B10BaseSe = [0.03,0.03,0.04,0.06,0.07,0.08,0.1,0.12,0.14,0.15];
const c100B10BaseLo = [-0.2,-0.2,-0.2,-0.2,-0.2,-0.2,-0.2,-0.2,-0.2,-0.2,-0.2,-0.2,-0.2,-0.2,-0.2,-0.2];
const c100B10BaseHi = [0.57,0.62,0.67,0.7,0.75,0.8,0.85,1.2,1.2,1.5,1.5,1.7,1.9,2.2,2.2,2.5];

const c100B50EstMean = [0.65,0.65,0.85,1.0,1.15,1.3,1.45,1.6,1.7,1.95,2.05,2.2,2.3,2.4,2.5,2.6,2.7,2.75,2.8,2.9,3.05,3.1,3.15,3.2,3.3,3.35,3.45,3.4,3.4,3.45,3.35,3.55,3.4,3.5,3.6,3.6,3.65,3.6,3.7,3.65,3.6,3.7,3.65,3.55,3.75,3.6,3.65,3.8,3.7,3.55];
const c100B50EstSe = [0.05,0.07,0.1,0.12,0.13,0.14,0.15,0.15,0.18,0.18];
const c100B50EstLo = [0.1,0.2,0.3,0.35,0.45,0.55,0.65,0.75,0.85,1.0,1.2,1.45,1.65,1.75,1.85,1.9];
const c100B50EstHi = [1.2,1.2,1.4,1.6,1.9,2.3,2.7,3.3,3.9,4.6,5.2,5.5,5.5,5.5,5.5,5.5];
const c100B50BaseMean = [0.35,0.2,0.22,0.22,0.24,0.25,0.27,0.28,0.3,0.32,0.35,0.33,0.36,0.37,0.39,0.4,0.42,0.44,0.45,0.45,0.46,0.48,0.47,0.5,0.5,0.52,0.53,0.55,0.54,0.55,0.58,0.6,0.6,0.6,0.63,0.62,0.63,0.65,0.65,0.67,0.66,0.68,0.7,0.68,0.72,0.73,0.7,0.76,0.75,0.72];
const c100B50BaseSe = [0.05,0.05,0.05,0.05,0.05,0.05,0.05,0.05,0.05,0.05];
const c100B50BaseLo = [-0.05,-0.05,-0.05,-0.05,-0.05,-0.05,-0.05,-0.05,-0.05,-0.05,-0.05,-0.05,-0.05,-0.05,-0.05,-0.05];
const c100B50BaseHi = [0.6,0.3,0.35,0.4,0.45,0.55,0.65,0.8,0.9,1.0,1.15,1.3,1.4,1.5,1.55,1.7];

const c100B100EstMean = [1.7,0.65,0.6,0.72,0.8,0.82,0.88,0.95,1.05,1.1,1.2,1.3,1.38,1.45,1.5,1.58,1.65,1.75,1.85,1.9,1.95,2.05,2.2,2.25,2.3,2.4,2.45,2.5,2.55,2.55,2.6,2.7,2.75,2.75,2.8,2.85,2.9,2.95,2.95,3.0,3.05,3.05,3.1,3.1,3.2,3.2,3.25,3.35,3.3,3.4];
const c100B100EstSe = [0.08,0.08,0.1,0.12,0.13,0.14,0.15,0.15,0.15,0.15];
const c100B100EstLo = [0.5,0.2,0.2,0.3,0.35,0.4,0.5,0.55,0.6,0.7,0.8,1.0,1.15,1.3,1.45,1.55];
const c100B100EstHi = [3.1,1.5,1.0,1.1,1.4,1.7,2.0,2.4,2.8,3.3,3.8,4.3,4.7,5.0,5.3,5.5];
const c100B100BaseMean = [0.85,0.18,0.15,0.17,0.18,0.18,0.2,0.22,0.24,0.25,0.25,0.27,0.28,0.3,0.31,0.33,0.35,0.35,0.36,0.38,0.38,0.4,0.41,0.41,0.42,0.43,0.44,0.46,0.46,0.47,0.47,0.48,0.49,0.5,0.52,0.52,0.53,0.54,0.55,0.55,0.57,0.57,0.58,0.59,0.6,0.6,0.61,0.6,0.62,0.63];
const c100B100BaseSe = [0.04,0.04,0.04,0.04,0.04,0.04,0.04,0.04,0.04,0.04];
const c100B100BaseLo = [-0.05,-0.05,-0.05,-0.05,-0.05,-0.05,-0.05,-0.05,-0.05,-0.05,-0.05,-0.05,-0.05,-0.05,-0.05,-0.05];
const c100B100BaseHi = [1.0,0.3,0.3,0.35,0.4,0.45,0.5,0.6,0.65,0.75,0.85,0.95,1.05,1.1,1.2,1.3];

// ---------- assemble ----------
const S = (mean, se, lo, hi) => ({mean, se, lo, hi});
const panelData = [
  [ {est:S(synB10EstMean,synB10EstSe,synB10EstLo,synB10EstHi), base:S(synB10BaseMean,synB10BaseSe,synB10BaseLo,synB10BaseHi), leg:"lr"},
    {est:S(synB50EstMean,synB50EstSe,synB50EstLo,synB50EstHi), base:S(synB50BaseMean,synB50BaseSe,synB50BaseLo,synB50BaseHi), leg:"ur"},
    {est:S(synB100EstMean,synB100EstSe,synB100EstLo,synB100EstHi), base:S(synB100BaseMean,synB100BaseSe,synB100BaseLo,synB100BaseHi), leg:"ur"} ],
  [ {est:S(airB10EstMean,airB10EstSe,airB10EstLo,airB10EstHi), base:S(airB10BaseMean,airB10BaseSe,airB10BaseLo,airB10BaseHi), leg:"uc2"},
    {est:S(airB50EstMean,airB50EstSe,airB50EstLo,airB50EstHi), base:S(airB50BaseMean,airB50BaseSe,airB50BaseLo,airB50BaseHi), leg:"ur"},
    {est:S(airB100EstMean,airB100EstSe,airB100EstLo,airB100EstHi), base:S(airB100BaseMean,airB100BaseSe,airB100BaseLo,airB100BaseHi), leg:"ur"} ],
  [ {est:S(appB10EstMean,appB10EstSe,appB10EstLo,appB10EstHi), base:S(appB10BaseMean,appB10BaseSe,appB10BaseLo,appB10BaseHi), leg:"ur"},
    {est:S(appB50EstMean,appB50EstSe,appB50EstLo,appB50EstHi), base:S(appB50BaseMean,appB50BaseSe,appB50BaseLo,appB50BaseHi), leg:"ur"},
    {est:S(appB100EstMean,appB100EstSe,appB100EstLo,appB100EstHi), base:S(appB100BaseMean,appB100BaseSe,appB100BaseLo,appB100BaseHi), leg:"ur"} ],
  [ {est:S(mnB10EstMean,mnB10EstSe,mnB10EstLo,mnB10EstHi), base:S(mnB10BaseMean,mnB10BaseSe,mnB10BaseLo,mnB10BaseHi), leg:"ur"},
    {est:S(mnB50EstMean,mnB50EstSe,mnB50EstLo,mnB50EstHi), base:S(mnB50BaseMean,mnB50BaseSe,mnB50BaseLo,mnB50BaseHi), leg:"ur"},
    {est:S(mnB100EstMean,mnB100EstSe,mnB100EstLo,mnB100EstHi), base:S(mnB100BaseMean,mnB100BaseSe,mnB100BaseLo,mnB100BaseHi), leg:"ur"} ],
  [ {est:S(fmB10EstMean,fmB10EstSe,fmB10EstLo,fmB10EstHi), base:S(fmB10BaseMean,fmB10BaseSe,fmB10BaseLo,fmB10BaseHi), leg:"ur"},
    {est:S(fmB50EstMean,fmB50EstSe,fmB50EstLo,fmB50EstHi), base:S(fmB50BaseMean,fmB50BaseSe,fmB50BaseLo,fmB50BaseHi), leg:"ur"},
    {est:S(fmB100EstMean,fmB100EstSe,fmB100EstLo,fmB100EstHi), base:S(fmB100BaseMean,fmB100BaseSe,fmB100BaseLo,fmB100BaseHi), leg:"ur"} ],
  [ {est:S(c10B10EstMean,c10B10EstSe,c10B10EstLo,c10B10EstHi), base:S(c10B10BaseMean,c10B10BaseSe,c10B10BaseLo,c10B10BaseHi), leg:"ur"},
    {est:S(c10B50EstMean,c10B50EstSe,c10B50EstLo,c10B50EstHi), base:S(c10B50BaseMean,c10B50BaseSe,c10B50BaseLo,c10B50BaseHi), leg:"ur"},
    {est:S(c10B100EstMean,c10B100EstSe,c10B100EstLo,c10B100EstHi), base:S(c10B100BaseMean,c10B100BaseSe,c10B100BaseLo,c10B100BaseHi), leg:"ur"} ],
  [ {est:S(c100B10EstMean,c100B10EstSe,c100B10EstLo,c100B10EstHi), base:S(c100B10BaseMean,c100B10BaseSe,c100B10BaseLo,c100B10BaseHi), leg:"uc"},
    {est:S(c100B50EstMean,c100B50EstSe,c100B50EstLo,c100B50EstHi), base:S(c100B50BaseMean,c100B50BaseSe,c100B50BaseLo,c100B50BaseHi), leg:"cr"},
    {est:S(c100B100EstMean,c100B100EstSe,c100B100EstLo,c100B100EstHi), base:S(c100B100BaseMean,c100B100BaseSe,c100B100BaseLo,c100B100BaseHi), leg:"ul"} ]
];

// ---------- layout (positions only) ----------
const rowBoxes = [
  {top:59,    bottom:277.5,  left:101.8},
  {top:401.7, bottom:612.3,  left:107},
  {top:793.3, bottom:1004.3, left:107},
  {top:1207.7,bottom:1425.7, left:90.6},
  {top:1524.3,bottom:1742.3, left:90.6},
  {top:1921.7,bottom:2132.3, left:90.6},
  {top:2259.5,bottom:2470.7, left:90.6}
];
const colRights = [467, 908, 1349];
const colShift = 441;
const rowLabelCenters = [310, 641, 1037, 1455, 1771, 2161, 2500];
const rowLabelLengths = [165, 287, 325, 134, 283, 177, 196];
const titleCenters = [263, 705, 1145];
const titleLengths = [276, 276, 299];

const BLUE = "#0000ff", RED = "#ff0000";
const svg = d3.select("#c");
const defs = svg.append("defs");

// column titles
colTitles.forEach((t, i) => {
  svg.append("text").attr("x", titleCenters[i]).attr("y", 47)
    .attr("text-anchor", "middle")
    .attr("font-family", "DejaVu Serif").attr("font-weight", "bold").attr("font-size", 31)
    .attr("textLength", titleLengths[i]).attr("lengthAdjust", "spacingAndGlyphs")
    .text(t);
});
svg.append("text").attr("x", 705).attr("y", 16).attr("text-anchor", "middle")
  .attr("font-family", "DejaVu Serif").attr("font-size", 26)
  .attr("textLength", 66).attr("lengthAdjust", "spacingAndGlyphs").text("cccc");

// row labels
rowNames.forEach((t, i) => {
  svg.append("text")
    .attr("transform", `translate(27.5,${rowLabelCenters[i]}) rotate(-90)`)
    .attr("text-anchor", "middle")
    .attr("font-family", "DejaVu Serif").attr("font-weight", "bold").attr("font-size", 28)
    .attr("textLength", rowLabelLengths[i]).attr("lengthAdjust", "spacingAndGlyphs")
    .text(t);
});

function drawPanel(r, c) {
  const rb = rowBoxes[r];
  const L = rb.left + c * colShift, R = colRights[c], T = rb.top, B = rb.bottom;
  const d = panelData[r][c];
  const x = d3.scaleLinear().domain([0, 51]).range([L, R]);
  const y = d3.scaleLinear().domain(yDomains[r]).range([B, T]);
  const g = svg.append("g");
  const id = `clip${r}_${c}`;
  defs.append("clipPath").attr("id", id).append("rect")
    .attr("x", L).attr("y", T).attr("width", R - L).attr("height", B - T);

  // grid
  const grid = g.append("g").attr("stroke", "#b0b0b0").attr("stroke-opacity", 0.35).attr("stroke-width", 1);
  xTicks.forEach(v => grid.append("line").attr("x1", x(v)).attr("x2", x(v)).attr("y1", T).attr("y2", B));
  yTicks[r].forEach(v => grid.append("line").attr("x1", L).attr("x2", R).attr("y1", y(v)).attr("y2", y(v)));

  const plot = g.append("g").attr("clip-path", `url(#${id})`);
  const wide = s => d3.area().x((v, i) => x(bandEpochs[i])).y0((v, i) => y(s.lo[i])).y1((v, i) => y(s.hi[i]))(s.lo);
  const narrow = s => d3.area().x((v, i) => x(epochs[i]))
      .y0((v, i) => y(v - s.se[Math.floor(i / 5)])).y1((v, i) => y(v + s.se[Math.floor(i / 5)]))(s.mean);
  const line = s => d3.line().x((v, i) => x(epochs[i])).y(v => y(v))(s.mean);

  plot.append("path").attr("d", wide(d.est)).attr("fill", BLUE).attr("fill-opacity", 0.13);
  plot.append("path").attr("d", wide(d.base)).attr("fill", RED).attr("fill-opacity", 0.13);
  plot.append("path").attr("d", narrow(d.est)).attr("fill", BLUE).attr("fill-opacity", 0.28);
  plot.append("path").attr("d", narrow(d.base)).attr("fill", RED).attr("fill-opacity", 0.28);
  plot.append("path").attr("d", line(d.est)).attr("fill", "none").attr("stroke", BLUE).attr("stroke-width", 2);
  plot.append("path").attr("d", line(d.base)).attr("fill", "none").attr("stroke", RED).attr("stroke-width", 2);

  // spines
  g.append("rect").attr("x", L).attr("y", T).attr("width", R - L).attr("height", B - T)
    .attr("fill", "none").attr("stroke", "#3a3a3a").attr("stroke-width", 1.3);

  // ticks + labels
  const fmt = yFormats[r] === "d" ? (v => String(v)) : d3.format(yFormats[r]);
  const tk = g.append("g").attr("font-family", "DejaVu Sans").attr("font-size", 17).attr("fill", "#000");
  xTicks.forEach(v => {
    tk.append("line").attr("x1", x(v)).attr("x2", x(v)).attr("y1", B).attr("y2", B + 3.5).attr("stroke", "#3a3a3a");
    tk.append("text").attr("x", x(v)).attr("y", B + 20).attr("text-anchor", "middle").text(v);
  });
  yTicks[r].forEach(v => {
    tk.append("line").attr("x1", L - 3.5).attr("x2", L).attr("y1", y(v)).attr("y2", y(v)).attr("stroke", "#3a3a3a");
    tk.append("text").attr("x", L - 4).attr("y", y(v) + 6.2).attr("text-anchor", "end").text(fmt(v));
  });
  tk.append("text").attr("x", (L + R) / 2).attr("y", B + 38).attr("text-anchor", "middle").text("epoch");
  tk.append("text").attr("transform", `translate(${68 + c * colShift},${(T + B) / 2}) rotate(-90)`)
    .attr("text-anchor", "middle").text("L2 distance");

  // legend
  const w = 174, h = 47;
  let bx, by;
  if (d.leg === "ur") { bx = R - 8.5 - w; by = T + 7.5; }
  if (d.leg === "lr") { bx = R - 8.5 - w; by = B - 7.5 - h; }
  if (d.leg === "uc") { bx = (L + R) / 2 - w / 2; by = T + 7.5; }
  if (d.leg === "cr") { bx = R - 8.5 - w; by = (T + B) / 2 - h / 2; }
  if (d.leg === "ul") { bx = L + 8; by = T + 7.5; }
  if (d.leg === "uc2") { bx = L + 93; by = T + 7.5; }
  const lg = g.append("g");
  lg.append("rect").attr("x", bx).attr("y", by).attr("width", w).attr("height", h).attr("rx", 3)
    .attr("fill", "#fff").attr("fill-opacity", 0.8).attr("stroke", "#cccccc").attr("stroke-width", 1);
  [BLUE, RED].forEach((col, k) => {
    const cy = by + 12.3 + k * 21.7;
    lg.append("line").attr("x1", bx + 5).attr("x2", bx + 35).attr("y1", cy).attr("y2", cy)
      .attr("stroke", col).attr("stroke-width", 2);
    lg.append("text").attr("x", bx + 46).attr("y", cy + 5)
      .attr("font-family", "DejaVu Sans").attr("font-size", 13.6).text(seriesNames[k]);
  });
}

for (let r = 0; r < 7; r++) for (let c = 0; c < 3; c++) drawPanel(r, c);
</script>
</body></html>
